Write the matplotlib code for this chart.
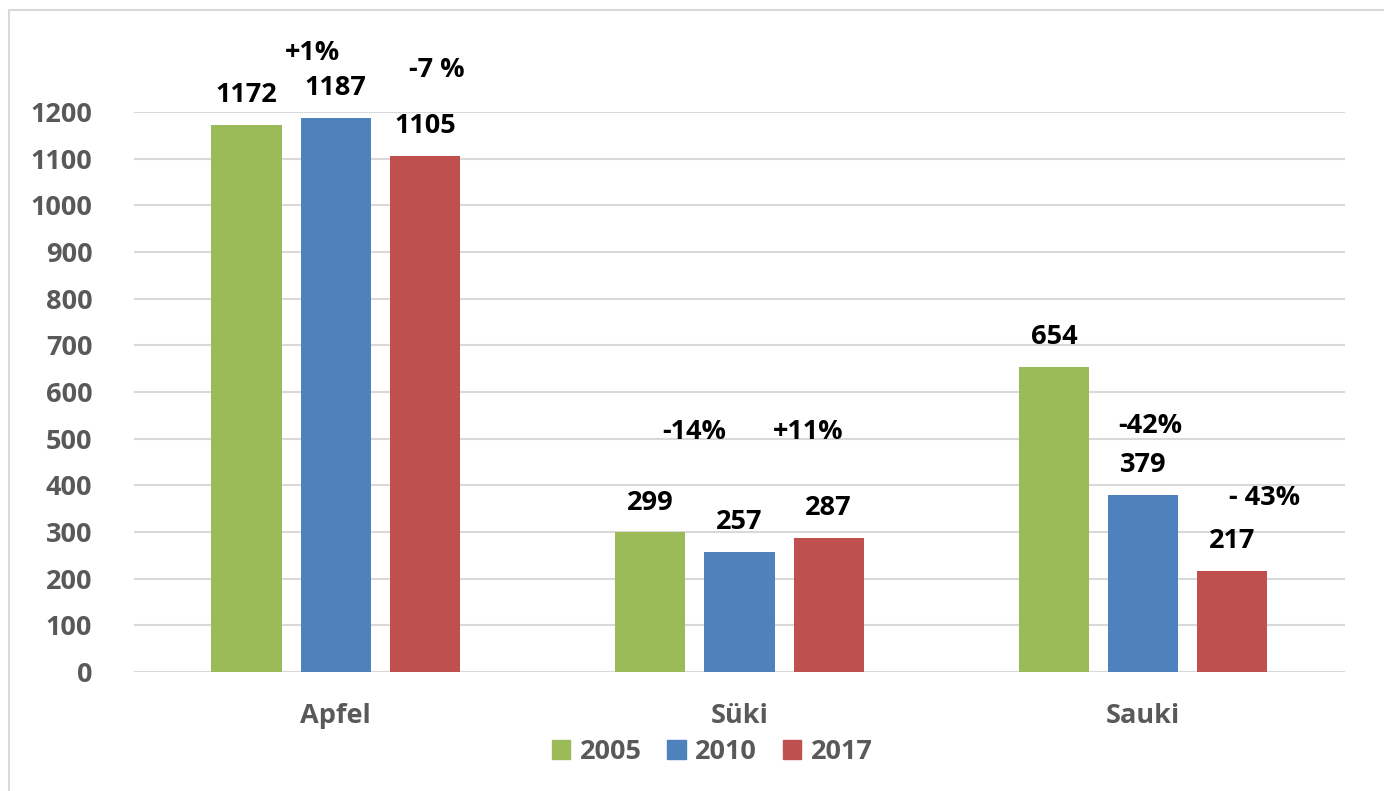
import matplotlib
matplotlib.use("Agg")
import matplotlib.pyplot as plt
from matplotlib.patches import Rectangle, Patch
import numpy as np

categories = ["Apfel", "Süki", "Sauki"]
years = ["2005", "2010", "2017"]
values_2005 = [1172, 299, 654]
values_2010 = [1187, 257, 379]
values_2017 = [1105, 287, 217]
series = [values_2005, values_2010, values_2017]
colors = ["#9BBB59", "#4F81BD", "#C0504D"]

# change notes: (text, category position, value height)
notes = ["+1%", "-7 %", "-14%", "+11%", "-42%", "- 43%"]
note_x = [-0.057, 0.25, 0.888, 1.169, 2.017, 2.30]
note_y = [1326, 1290, 514, 514, 527, 373]

plt.rcParams["font.family"] = ["Open Sans", "DejaVu Sans"]
plt.rcParams["font.weight"] = "bold"
FS = 19.5

fig = plt.figure(figsize=(13.84, 7.91), dpi=100)
ax = fig.add_axes([0.0968, 0.1504, 0.875, 0.708])

fig.patches.append(Rectangle((9 / 1384, -0.1), 2, 1 - 10 / 791 + 0.1,
                             transform=fig.transFigure, fill=False,
                             edgecolor="#d9d9d9", linewidth=1.5))

x = np.arange(len(categories))
width = 0.174
offset = 0.221
for i, (vals, col, yr) in enumerate(zip(series, colors, years)):
    pos = x + (i - 1) * offset
    ax.bar(pos, vals, width, color=col, label=yr, zorder=3)
    for p, v in zip(pos, vals):
        ax.text(p, v + 64, str(v), ha="center", va="center", fontsize=FS,
                fontweight="bold", color="black", clip_on=False)

for t, nx, ny in zip(notes, note_x, note_y):
    ax.text(nx, ny, t, ha="center", va="center", fontsize=FS,
            fontweight="bold", color="black", clip_on=False)

ax.set_xlim(-0.5, 2.5)
ax.set_ylim(0, 1200)
ax.set_yticks(range(0, 1201, 100))
ax.set_xticks(x)
ax.set_xticklabels(categories)
ax.tick_params(axis="both", length=0, labelsize=FS, labelcolor="#595959")
ax.tick_params(axis="y", pad=30)
ax.tick_params(axis="x", pad=22)
for lab in ax.get_xticklabels() + ax.get_yticklabels():
    lab.set_fontweight("bold")
ax.grid(axis="y", color="#d9d9d9", linewidth=1.5, zorder=0)
ax.set_axisbelow(True)
for s in ax.spines.values():
    s.set_visible(False)

handles = [Patch(color=c, label=y) for c, y in zip(colors, years)]
leg = fig.legend(handles=handles, loc="center",
                 bbox_to_anchor=(712 / 1384, 1 - 752 / 791),
                 ncol=3, frameon=False, fontsize=FS, handlelength=0.68,
                 handleheight=0.68, handletextpad=0.35, columnspacing=0.95)
for t in leg.get_texts():
    t.set_color("#595959")
    t.set_fontweight("bold")

fig.savefig("out.png", dpi=100)
